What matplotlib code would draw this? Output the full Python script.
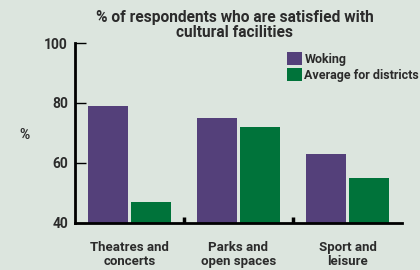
import matplotlib
matplotlib.use("Agg")
import matplotlib.pyplot as plt
from matplotlib.ticker import FixedLocator
import numpy as np

categories = ["Theatres and\nconcerts", "Parks and\nopen spaces", "Sport and\nleisure"]
woking = [79, 75, 63]
districts = [47, 72, 55]
series_names = ["Woking", "Average for districts"]
yticks = [40, 60, 80, 100]

bg = "#dce5de"
purple = "#54407a"
green = "#00733a"
txt = "#2b2b2b"

plt.rcParams["font.family"] = ["Roboto", "DejaVu Sans"]
plt.rcParams["font.weight"] = "bold"

fig = plt.figure(figsize=(4.2, 2.7), dpi=100, facecolor=bg)
ax = fig.add_axes([75/420, 1 - 223/270, 327/420, 180/270])
ax.set_facecolor(bg)

x = np.arange(len(categories))
w = 0.367
off = 0.199
ax.bar(x - off, woking, w, color=purple, label=series_names[0], zorder=2)
ax.bar(x + off, districts, w, color=green, label=series_names[1], zorder=2)

ax.set_xlim(-0.5, 2.5)
ax.set_ylim(40, 100)
ax.set_yticks(yticks)
ax.set_xticks(x)
ax.set_xticklabels(categories, fontsize=9.5, fontweight="bold", color=txt, linespacing=1.05)
ax.xaxis.set_minor_locator(FixedLocator([0.5, 1.5]))
ax.tick_params(axis="x", which="major", length=0, pad=13)
ax.tick_params(axis="x", which="minor", direction="in", length=4, width=2.5, color="black")
ax.tick_params(axis="y", direction="in", length=8, width=1, pad=5, labelsize=10, labelcolor=txt)
for lab in ax.get_yticklabels():
    lab.set_fontweight("bold")

for s in ["top", "right"]:
    ax.spines[s].set_visible(False)
ax.spines["left"].set_linewidth(2)
ax.spines["bottom"].set_linewidth(2)

ax.set_ylabel("%", rotation=0, fontsize=10, fontweight="bold", color=txt, va="center", ha="center")
ax.yaxis.set_label_coords(-0.153, 0.49)

fig.text(235/420, 1 - 25/270, "% of respondents who are satisfied with\ncultural facilities",
         ha="center", va="center", fontsize=11.2, fontweight="bold", color=txt, linespacing=1.05)

ax.legend(loc="upper left", bbox_to_anchor=(0.648, 0.95), frameon=False, fontsize=9,
          handlelength=1.2, handleheight=1.2, handletextpad=0.2, labelspacing=0.2,
          borderpad=0, borderaxespad=0, labelcolor=txt, prop={"weight": "bold", "size": 9})

fig.savefig("out.png", dpi=100, facecolor=bg)
